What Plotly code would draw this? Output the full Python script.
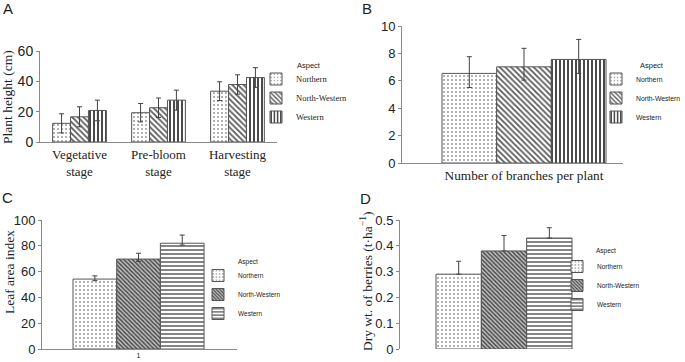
import plotly.graph_objects as go

W, H = 685, 362

aspects = ["Northern", "North-Western", "Western"]

# Panel A: plant height (cm) by growth stage
stages = ["Vegetative<br>stage", "Pre-bloom<br>stage", "Harvesting<br>stage"]
height_northern = [12.3, 19.3, 33.5]
height_northwestern = [16.6, 22.6, 37.9]
height_western = [20.8, 27.6, 42.5]
height_err_northern = [6.3, 6.1, 6.2]
height_err_northwestern = [6.6, 6.4, 6.4]
height_err_western = [6.8, 6.6, 6.5]

# Panel B: number of branches per plant
branch_cat = ["Number of branches per plant"]
branches = [6.54, 7.02, 7.56]
branches_err_plus = [1.22, 1.35, 1.46]
branches_err_minus = [1.03, 0.97, 1.02]

# Panel C: leaf area index
lai_cat = ["1"]
lai = [54.2, 69.7, 82.0]
lai_err_plus = [2.5, 4.5, 6.3]
lai_err_minus = [1.2, 1.8, 1.4]

# Panel D: dry weight of berries (t/ha)
berry_cat = ["1"]
berries = [0.29, 0.38, 0.43]
berries_err_plus = [0.05, 0.06, 0.04]
berries_err_minus = [0.0, 0.0, 0.0]

SERIF = "Liberation Serif"
SANS = "Liberation Sans"
AX = "#8a8a8a"
EB = "#444444"
OUT = "#555555"

pat_ab = [
    dict(shape=".", fgcolor="#9a9a9a", bgcolor="white", size=4, solidity=0.2, fillmode="replace"),
    dict(shape="\\", fgcolor="#5a5a5a", bgcolor="white", size=4, solidity=0.45, fillmode="replace"),
    dict(shape="|", fgcolor="#4a4a4a", bgcolor="white", size=4, solidity=0.5, fillmode="replace"),
]
pat_cd = [
    dict(shape=".", fgcolor="#9a9a9a", bgcolor="white", size=4, solidity=0.2, fillmode="replace"),
    dict(shape="\\", fgcolor="#4a4a4a", bgcolor="#c4c4c4", size=3, solidity=0.5, fillmode="replace"),
    dict(shape="-", fgcolor="#666666", bgcolor="white", size=4, solidity=0.4, fillmode="replace"),
]


def eb(plus, minus=None):
    d = dict(type="data", array=plus, visible=True, color=EB, thickness=1, width=2.5)
    if minus is not None:
        d["symmetric"] = False
        d["arrayminus"] = minus
    return d


fig = go.Figure()

a_vals = [height_northern, height_northwestern, height_western]
a_errs = [height_err_northern, height_err_northwestern, height_err_western]
for i, name in enumerate(aspects):
    fig.add_trace(go.Bar(
        x=stages, y=a_vals[i], name=name, xaxis="x", yaxis="y", legend="legend",
        marker=dict(color="white", line=dict(color=OUT, width=1), pattern=pat_ab[i]),
        error_y=eb(a_errs[i]),
    ))

for i, name in enumerate(aspects):
    fig.add_trace(go.Bar(
        x=branch_cat, y=[branches[i]], name=name, xaxis="x2", yaxis="y2", legend="legend2",
        marker=dict(color="white", line=dict(color=OUT, width=1), pattern=pat_ab[i]),
        error_y=eb([branches_err_plus[i]], [branches_err_minus[i]]),
    ))

for i, name in enumerate(aspects):
    fig.add_trace(go.Bar(
        x=lai_cat, y=[lai[i]], name=name, xaxis="x3", yaxis="y3", legend="legend3",
        marker=dict(color="white", line=dict(color=OUT, width=1), pattern=pat_cd[i]),
        error_y=eb([lai_err_plus[i]], [lai_err_minus[i]]),
    ))

for i, name in enumerate(aspects):
    fig.add_trace(go.Bar(
        x=berry_cat, y=[berries[i]], name=name, xaxis="x4", yaxis="y4", legend="legend4",
        marker=dict(color="white", line=dict(color=OUT, width=1), pattern=pat_cd[i]),
        error_y=eb([berries_err_plus[i]], [berries_err_minus[i]]),
    ))


def px_x(p):
    return p / W


def px_y(p):
    return 1 - p / H


def yax(anchor, dom, rng, dtick, size=14):
    return dict(anchor=anchor, domain=dom, range=rng, dtick=dtick, showline=True,
                linecolor=AX, linewidth=1, ticks="outside", ticklen=3, tickcolor=AX,
                showgrid=False, zeroline=False, automargin=False,
                tickfont=dict(family=SANS, size=size, color="#222"))


def xax(anchor, dom, rng, font, showline=True, showlabels=True):
    return dict(anchor=anchor, domain=dom, range=rng, type="category", showline=showline,
                linecolor=AX, linewidth=1, ticks="", showgrid=False, zeroline=False,
                automargin=False, showticklabels=showlabels, tickfont=font)


layout = dict(
    width=W, height=H, margin=dict(l=0, r=0, t=0, b=0, pad=0, autoexpand=False),
    paper_bgcolor="white", plot_bgcolor="white",
    barmode="group", bargap=0.32, bargroupgap=0,
    font=dict(family=SANS, color="#222"),
    xaxis=xax("y", [px_x(40), px_x(277)], [-0.5, 2.5], dict(family=SERIF, size=13, color="#222")),
    yaxis=yax("x", [px_y(142), px_y(51)], [0, 60], 20),
    xaxis2=xax("y2", [px_x(402), px_x(623)], [-0.5058, 0.4105], dict(family=SERIF, size=13.3, color="#222")),
    yaxis2=yax("x2", [px_y(163), px_y(26)], [0, 10], 2, 13),
    xaxis3=xax("y3", [px_x(42), px_x(237)], [-0.501, 0.511], dict(family=SANS, size=7, color="#222")),
    yaxis3=yax("x3", [px_y(349), px_y(220)], [0, 100], 20, 13),
    xaxis4=xax("y4", [px_x(400), px_x(608)], [-0.52, 0.52], dict(family=SANS, size=7, color="#222"),
               showline=False, showlabels=False),
    yaxis4=yax("x4", [px_y(349), px_y(220)], [0, 0.5], 0.1, 13),
)

leg_common = dict(xanchor="left", yanchor="top", bgcolor="rgba(0,0,0,0)", borderwidth=0,
                  orientation="v", traceorder="normal")
layout["legend"] = dict(x=px_x(256), y=px_y(64.5), font=dict(family=SERIF, size=8.5, color="#222"), **leg_common)
layout["legend2"] = dict(x=px_x(596), y=px_y(64.5), font=dict(family=SANS, size=6.8, color="#222"), **leg_common)
layout["legend3"] = dict(x=px_x(198), y=px_y(261), font=dict(family=SANS, size=6.5, color="#222"), **leg_common)
layout["legend4"] = dict(x=px_x(557), y=px_y(252), font=dict(family=SANS, size=6.5, color="#222"), **leg_common)

fig.update_layout(**layout)

ann = []


def text_at(x, y, text, size, family, angle=0, xanchor="center"):
    ann.append(dict(x=px_x(x), y=px_y(y), xref="paper", yref="paper", text=text, showarrow=False,
                    textangle=angle, xanchor=xanchor, yanchor="middle",
                    font=dict(family=family, size=size, color="#222")))


# panel letters
text_at(8, 9, "A", 15, SANS)
text_at(366.5, 9, "B", 15, SANS)
text_at(7.5, 197, "C", 15, SANS)
text_at(365.5, 198, "D", 15, SANS)

# axis titles
text_at(8, 97, "Plant height (cm)", 13.5, SERIF, -90)
text_at(9, 272, "Leaf area index", 13.5, SERIF, -90)
text_at(366, 281, "Dry wt. of berries (t·ha<sup>−1</sup>)", 13.5, SERIF, -90)

# legend headings
text_at(295, 66, "Aspect", 7.5, SANS, xanchor="left")
text_at(638, 66, "Aspect", 7.5, SANS, xanchor="left")
text_at(236, 262, "Aspect", 6.5, SANS, xanchor="left")
text_at(594, 251, "Aspect", 6.5, SANS, xanchor="left")

fig.update_layout(annotations=ann)

# the page is shown in a window exactly the figure's size: drop the default body margin
fig.write_html("out.html", config={"displayModeBar": False},
               post_script="document.body.style.margin='0';")
